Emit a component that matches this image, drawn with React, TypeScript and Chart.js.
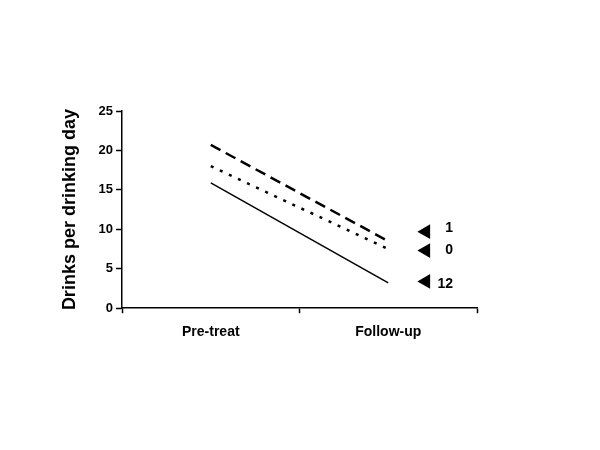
import React, { useEffect, useRef } from "react";
import { Chart, registerables } from "chart.js";

Chart.register(...registerables);

const categories = ["Pre-treat", "Follow-up"];
const categoryPositions = [0.5, 1.5];
const solidSeries = [15.9, 3.2];
const dottedSeries = [18.0, 7.5];
const dashedSeries = [20.7, 8.5];

const markerX = 1.712;
const markerY = [9.7, 7.3, 3.4];
const markerLabels = ["1", "0", "12"];
const labelX = 1.865;
const labelY = [10.1, 7.4, 3.0];

const yTicks = [0, 5, 10, 15, 20, 25];

const FONT = "'Liberation Sans', Arial, sans-serif";

const markerLabelPlugin = {
  id: "markerLabels",
  afterDatasetsDraw(chart: any) {
    const { ctx, scales } = chart;
    ctx.save();
    ctx.fillStyle = "#000";
    ctx.font = `bold 14px ${FONT}`;
    ctx.textAlign = "right";
    ctx.textBaseline = "middle";
    markerLabels.forEach((t, i) => {
      ctx.fillText(t, scales.x.getPixelForValue(labelX), scales.y.getPixelForValue(labelY[i]));
    });
    ctx.restore();
  },
};

export default function App() {
  const ref = useRef<HTMLCanvasElement>(null);
  useEffect(() => {
    document.body.style.margin = "0";
    const toPts = (vals: number[]) => vals.map((v, i) => ({ x: categoryPositions[i], y: v }));
    const chart = new Chart(ref.current!, {
      type: "line",
      data: {
        datasets: [
          {
            data: toPts(dashedSeries),
            borderColor: "#000",
            borderWidth: 2.5,
            borderDash: [11, 6],
            pointRadius: 0,
            fill: false,
          },
          {
            data: toPts(dottedSeries),
            borderColor: "#000",
            borderWidth: 2.5,
            borderDash: [3, 7],
            pointRadius: 0,
            fill: false,
          },
          {
            data: toPts(solidSeries),
            borderColor: "#000",
            borderWidth: 1.5,
            pointRadius: 0,
            fill: false,
          },
          {
            type: "scatter",
            data: markerY.map((y) => ({ x: markerX, y })),
            pointStyle: "triangle",
            rotation: 270,
            pointRadius: 8.5,
            backgroundColor: "#000",
            borderColor: "#000",
            borderWidth: 0,
            showLine: false,
          } as any,
        ],
      },
      options: {
        animation: false,
        responsive: false,
        events: [],
        layout: { padding: { left: 58, top: 111, right: 123, bottom: 98 } },
        plugins: { legend: { display: false }, tooltip: { enabled: false } },
        scales: {
          x: {
            type: "linear",
            min: 0,
            max: 2,
            afterBuildTicks(scale: any) {
              scale.ticks = [0, 0.5, 1, 1.5, 2].map((v) => ({ value: v }));
            },
            border: { color: "#000", width: 1.5 },
            grid: {
              drawOnChartArea: false,
              drawTicks: true,
              tickLength: 5,
              tickWidth: 1.5,
              tickColor: (ctx: any) =>
                ctx.tick && Number.isInteger(ctx.tick.value) ? "#000" : "rgba(0,0,0,0)",
            },
            ticks: {
              color: "#000",
              font: { family: FONT, size: 14, weight: "bold" },
              padding: 11,
              maxRotation: 0,
              autoSkip: false,
              callback: (v: any) => {
                const i = categoryPositions.indexOf(Number(v));
                return i >= 0 ? categories[i] : "";
              },
            },
          },
          y: {
            min: 0,
            max: 25,
            afterBuildTicks(scale: any) {
              scale.ticks = yTicks.map((v) => ({ value: v }));
            },
            border: { color: "#000", width: 1.5 },
            grid: {
              drawOnChartArea: false,
              drawTicks: true,
              tickLength: 6,
              tickWidth: 1.5,
              tickColor: "#000",
            },
            ticks: {
              color: "#000",
              font: { family: FONT, size: 13, weight: "bold" },
              padding: 3,
            },
            title: {
              display: true,
              text: "Drinks per drinking day",
              color: "#000",
              font: { family: FONT, size: 18, weight: "bold" },
              padding: { top: 1, bottom: 15 },
            },
          },
        },
      },
      plugins: [markerLabelPlugin],
    });
    return () => chart.destroy();
  }, []);
  return <canvas ref={ref} width={600} height={450} style={{ display: "block" }} />;
}
